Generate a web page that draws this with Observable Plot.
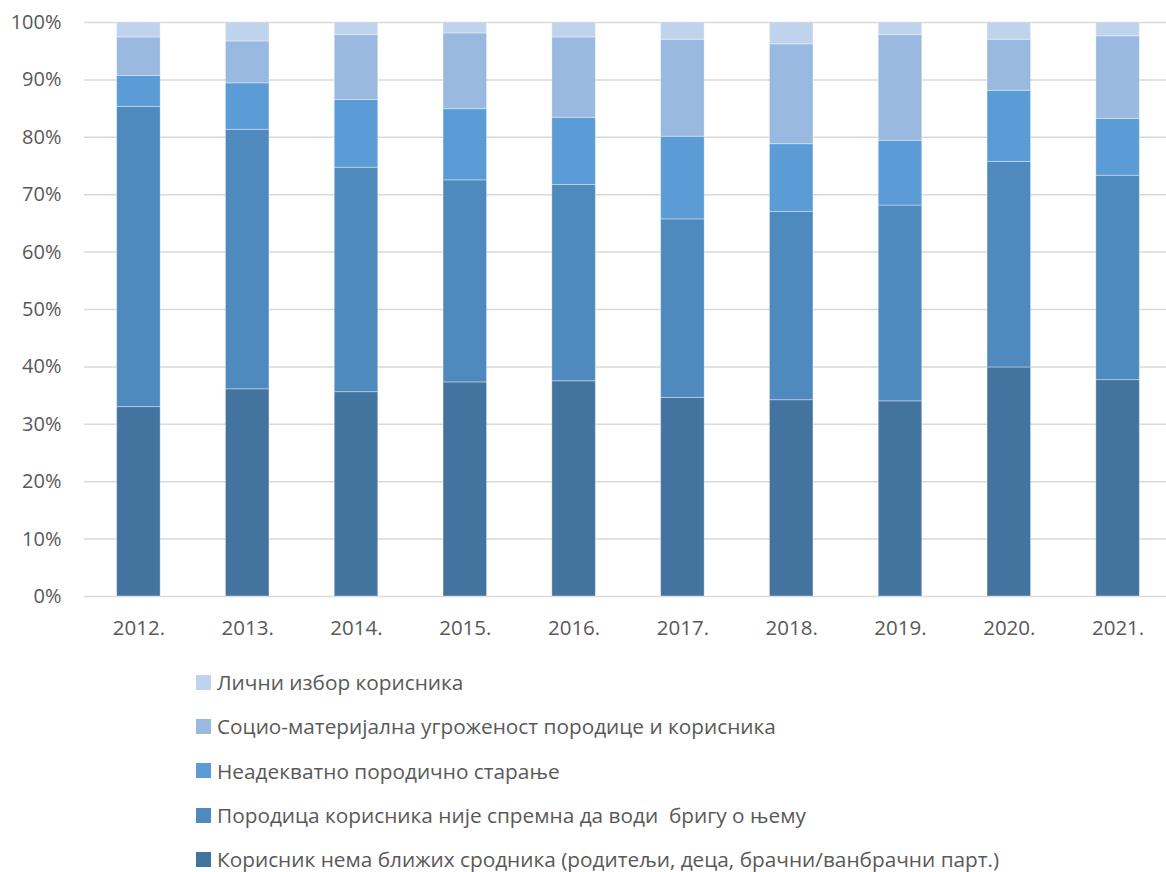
<!DOCTYPE html>
<html>
<head>
<meta charset="utf-8">
<script src="https://cdn.jsdelivr.net/npm/d3@7"></script>
<script src="https://cdn.jsdelivr.net/npm/@observablehq/plot@0.6"></script>
<style>
  html, body { margin: 0; padding: 0; background: #fff; }
  body { width: 1166px; height: 872px; overflow: hidden; font-family: "Open Sans", sans-serif; }
  #chart svg { overflow: visible; display: block; }
  #legend { margin-left: 196px; margin-top: 10px; }
  .item { display: flex; align-items: center; height: 44.3px; font-size: 20.8px; color: #595959; }
  .sw { width: 15px; height: 15px; margin-right: 6px; flex: none; }
</style>
</head>
<body>
<div id="chart"></div>
<div id="legend"></div>
<script>
const years = ["2012.", "2013.", "2014.", "2015.", "2016.", "2017.", "2018.", "2019.", "2020.", "2021."];
const seriesNames = [
  "Корисник нема ближих сродника (родитељи, деца, брачни/ванбрачни парт.)",
  "Породица корисника није спремна да води  бригу о њему",
  "Неадекватно породично старање",
  "Социо-материјална угроженост породице и корисника",
  "Лични избор корисника"
];
const s1 = [33.0, 36.1, 35.6, 37.3, 37.5, 34.6, 34.2, 34.0, 39.9, 37.7];
const s2 = [52.3, 45.2, 39.1, 35.2, 34.2, 31.1, 32.8, 34.1, 35.8, 35.6];
const s3 = [5.4, 8.1, 11.8, 12.4, 11.7, 14.4, 11.8, 11.3, 12.4, 9.9];
const s4 = [6.7, 7.3, 11.3, 13.2, 14.0, 16.9, 17.4, 18.4, 8.9, 14.4];
const s5 = [2.6, 3.3, 2.2, 1.9, 2.6, 3.0, 3.8, 2.2, 3.0, 2.4];
const yTicks = [0, 10, 20, 30, 40, 50, 60, 70, 80, 90, 100];
const colors = ["#43749f", "#4f8abe", "#5b9bd6", "#99b9e0", "#bfd3ec"];

const seriesValues = [s1, s2, s3, s4, s5];
const data = [];
seriesValues.forEach((vals, i) => {
  vals.forEach((v, j) => data.push({year: years[j], series: seriesNames[i], value: v}));
});

const chart = Plot.plot({
  width: 1166,
  height: 650,
  marginTop: 22,
  marginBottom: 54,
  marginLeft: 84,
  marginRight: -6,
  style: {fontFamily: "Open Sans, sans-serif", fontSize: "20px", color: "#595959", background: "#fff"},
  x: {domain: years, paddingInner: 0.6, paddingOuter: 0.3, round: false, label: null},
  y: {domain: [0, 100], label: null},
  color: {domain: seriesNames, range: colors},
  marks: [
    Plot.gridY(yTicks, {stroke: "#d9d9d9", strokeOpacity: 1, strokeWidth: 1.5}),
    Plot.barY(data, {x: "year", y: "value", fill: "series", order: seriesNames, stroke: "#ffffff", strokeOpacity: 0.35, strokeWidth: 1}),
    Plot.axisX({tickSize: 0, tickPadding: 24, fill: "#595959", fontSize: 20.5, label: null}),
    Plot.axisY(yTicks, {tickFormat: d => d + "%", tickSize: 0, tickPadding: 23, fill: "#595959", fontSize: 20, label: null})
  ]
});
document.getElementById("chart").appendChild(chart);

const legend = document.getElementById("legend");
for (let i = seriesNames.length - 1; i >= 0; i--) {
  const item = document.createElement("div");
  item.className = "item";
  const sw = document.createElement("span");
  sw.className = "sw";
  sw.style.background = colors[i];
  const t = document.createElement("span");
  t.textContent = seriesNames[i];
  t.style.whiteSpace = "pre";
  item.appendChild(sw);
  item.appendChild(t);
  legend.appendChild(item);
}
</script>
</body>
</html>
